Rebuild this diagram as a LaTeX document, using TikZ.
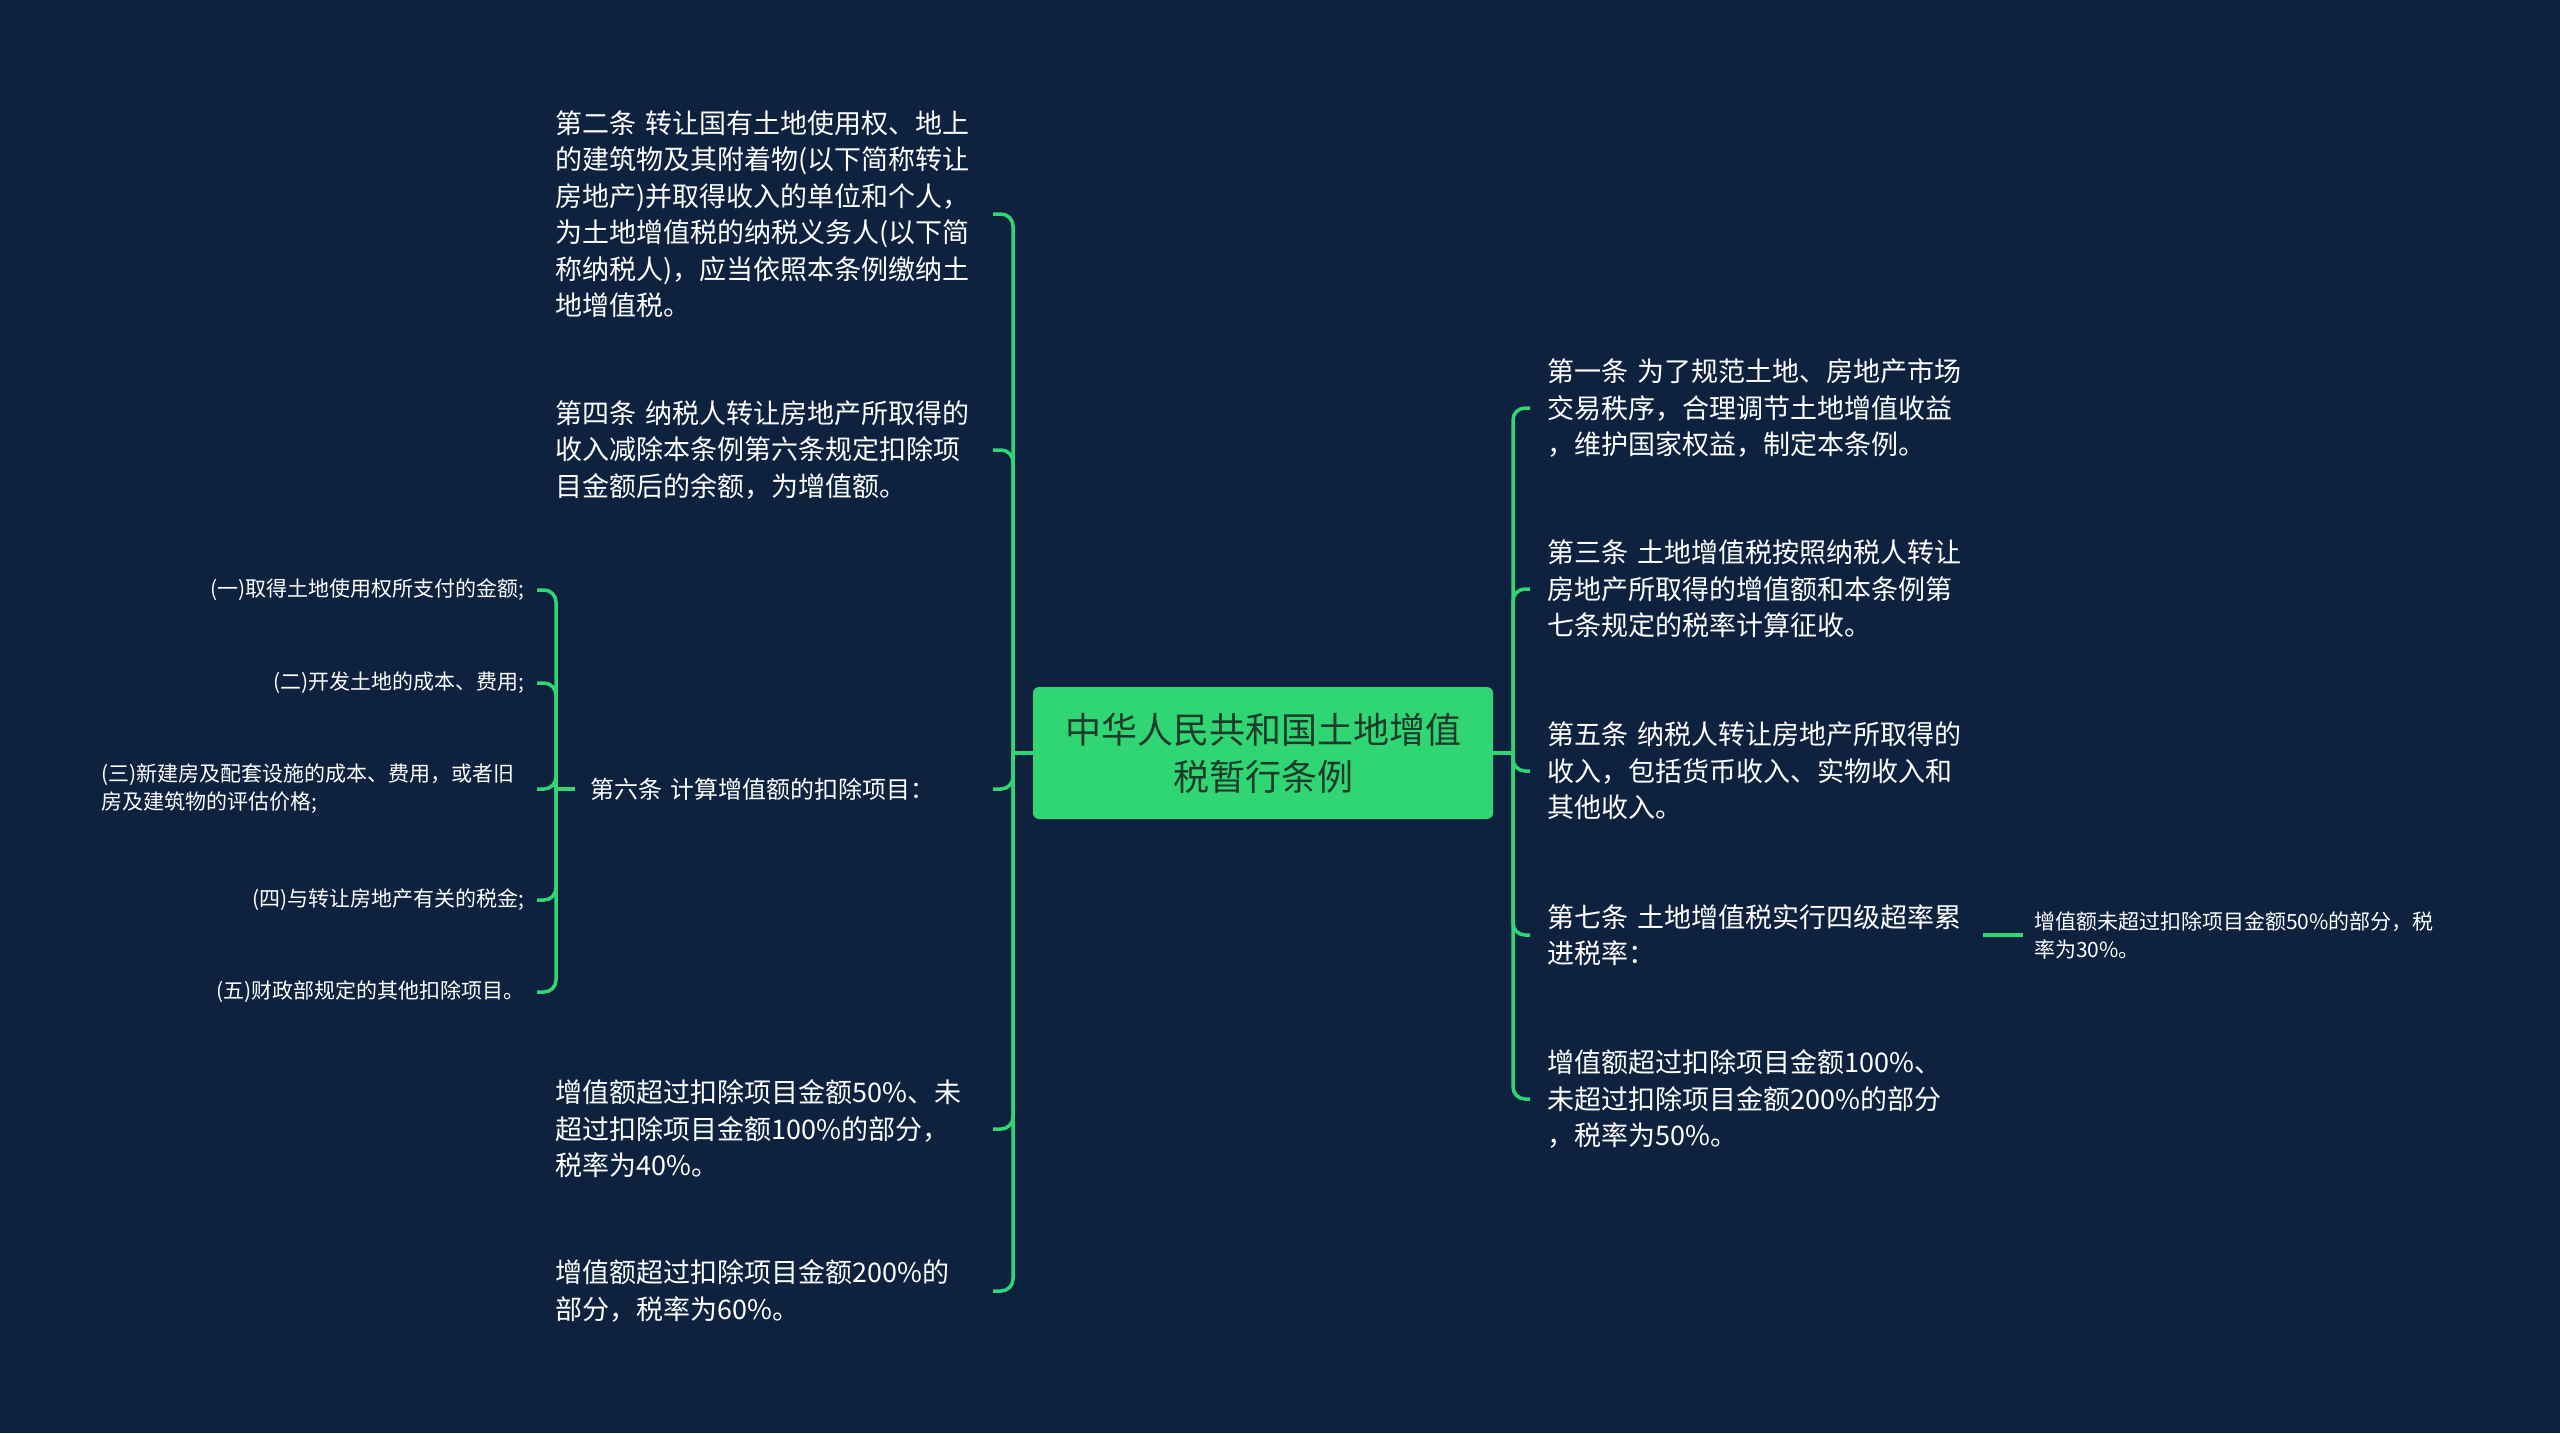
\documentclass[tikz,border=0pt]{standalone}
\usepackage{fontspec}
\setmainfont{Noto Sans CJK SC}
\usepackage{tikz}
\definecolor{bgblue}{HTML}{0E2240}
\definecolor{leafgreen}{HTML}{30D574}
\definecolor{rootink}{HTML}{1E3A2B}

\begin{document}
\begin{tikzpicture}[
    x=1pt, y=-1pt,
    link/.style={draw=leafgreen, line width=3.5pt, rounded corners=12pt},
    topic/.style={text=white, inner sep=0pt, align=left, text width=440pt, font=\fontsize{27}{36.5}\selectfont},
    minor/.style={text=white, inner sep=0pt, font=\fontsize{21}{28}\selectfont},
    rootbox/.style={fill=leafgreen, rounded corners=6pt, minimum width=460pt, minimum height=132pt,
        text=rootink, align=center, font=\fontsize{36}{47}\selectfont}
]
    % 背景
    \useasboundingbox (0,0) rectangle (2560,1433);
    \fill[bgblue] (0,0) rectangle (2560,1433);

    % 中心主题
    \node[rootbox] (root) at (1263,753) {中华人民共和国土地增值\\税暂行条例};

    % 左侧分支
    \node[topic, anchor=west] (L1) at (555,214) {第二条 转让国有土地使用权、地上\\的建筑物及其附着物(以下简称转让\\房地产)并取得收入的单位和个人，\\为土地增值税的纳税义务人(以下简\\称纳税人)，应当依照本条例缴纳土\\地增值税。};
    \node[topic, anchor=west] (L2) at (555,450) {第四条 纳税人转让房地产所取得的\\收入减除本条例第六条规定扣除项\\目金额后的余额，为增值额。};
    \node[topic, anchor=west, font=\fontsize{24}{30}\selectfont] (L3) at (590,789) {第六条 计算增值额的扣除项目：};
    \node[topic, anchor=west] (L4) at (555,1129) {增值额超过扣除项目金额50\%、未\\超过扣除项目金额100\%的部分，\\税率为40\%。};
    \node[topic, anchor=west] (L5) at (555,1291) {增值额超过扣除项目金额200\%的\\部分，税率为60\%。};

    % 第六条的扣除项目
    \node[minor, anchor=east] (S1) at (525,590) {(一)取得土地使用权所支付的金额;};
    \node[minor, anchor=east] (S2) at (525,683) {(二)开发土地的成本、费用;};
    \node[minor, anchor=east, align=left, text width=423pt] (S3) at (525,789) {(三)新建房及配套设施的成本、费用，或者旧\\房及建筑物的评估价格;};
    \node[minor, anchor=east] (S4) at (525,900) {(四)与转让房地产有关的税金;};
    \node[minor, anchor=east] (S5) at (525,992) {(五)财政部规定的其他扣除项目。};

    % 右侧分支
    \node[topic, anchor=west] (R1) at (1547,408) {第一条 为了规范土地、房地产市场\\交易秩序，合理调节土地增值收益\\，维护国家权益，制定本条例。};
    \node[topic, anchor=west] (R2) at (1547,589) {第三条 土地增值税按照纳税人转让\\房地产所取得的增值额和本条例第\\七条规定的税率计算征收。};
    \node[topic, anchor=west] (R3) at (1547,771) {第五条 纳税人转让房地产所取得的\\收入，包括货币收入、实物收入和\\其他收入。};
    \node[topic, anchor=west] (R4) at (1547,935) {第七条 土地增值税实行四级超率累\\进税率：};
    \node[topic, anchor=west] (R5) at (1547,1099) {增值额超过扣除项目金额100\%、\\未超过扣除项目金额200\%的部分\\，税率为50\%。};
    \node[minor, anchor=west, align=left] (R6) at (2034,935) {增值额未超过扣除项目金额50\%的部分，税\\率为30\%。};

    % 分叉点
    \coordinate (jL) at (1013,753);
    \coordinate (eL) at (993,0);
    \coordinate (jR) at (1513,753);
    \coordinate (eR) at (1530,0);
    \coordinate (jS) at (556,789);
    \coordinate (eS) at (537,0);
    \coordinate (e7) at (1983,0);

    % 连线
    \draw[link] (root.west) -- (jL);
    \foreach \k in {L1,L2,L3,L4,L5}
        \draw[link] (jL) |- (\k.east -| eL);
    \draw[link] (root.east) -- (jR);
    \foreach \k in {R1,R2,R3,R4,R5}
        \draw[link] (jR) |- (\k.west -| eR);
    \draw[link] ([xshift=-15pt]L3.west) -- (jS);
    \foreach \k in {S1,S2,S3,S4,S5}
        \draw[link] (jS) |- (\k.east -| eS);
    \draw[link] (R4.east -| e7) -- ([xshift=-11pt]R6.west);

\end{tikzpicture}
\end{document}
